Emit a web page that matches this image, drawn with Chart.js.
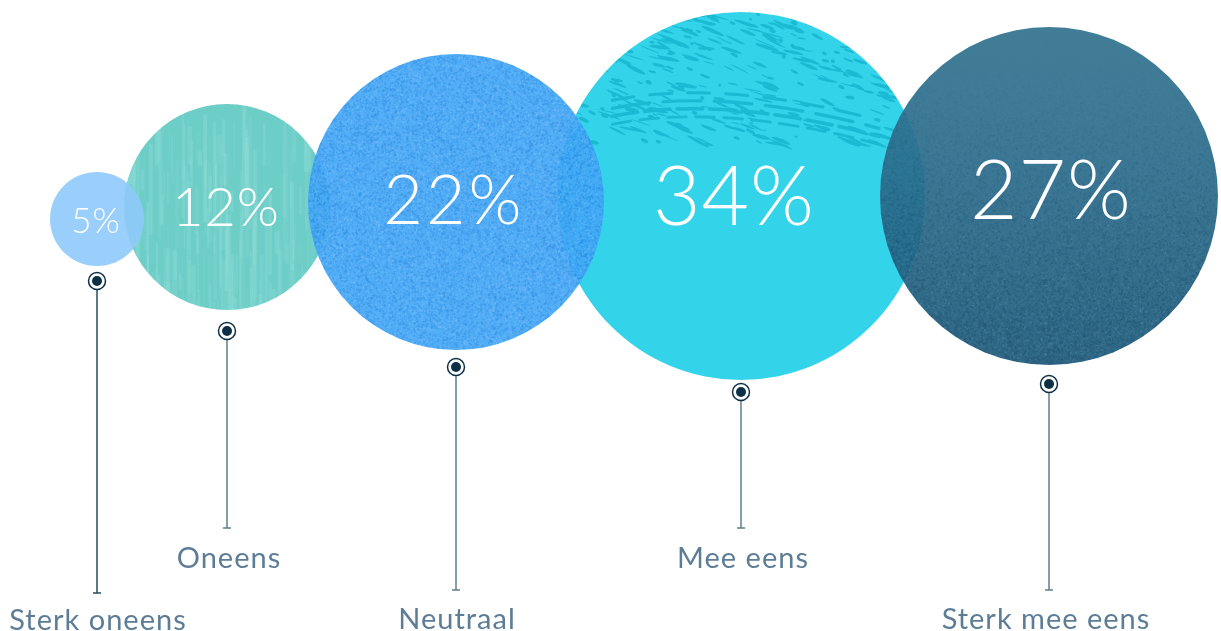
<!DOCTYPE html>
<html lang="nl">
<head>
<meta charset="utf-8">
<title>Stellingen</title>
<script src="https://cdn.jsdelivr.net/npm/chart.js@4.4.1/dist/chart.umd.min.js"></script>
<style>
  html, body { margin: 0; padding: 0; background: #fff; }
  #wrap { width: 1221px; height: 631px; }
</style>
</head>
<body>
<div id="wrap"><canvas id="bubbles" width="1221" height="631"></canvas></div>
<script>
const categories = ['Sterk oneens', 'Oneens', 'Neutraal', 'Mee eens', 'Sterk mee eens'];
const percentages = [5, 12, 22, 34, 27];

// where each bubble sits on the hidden x/y scales, and how big it is
const bubbleX = [97, 227, 456, 741, 1049];
const bubbleY = [219, 207, 202, 196, 196];
const bubbleR = [47, 103, 148, 184, 169];

// pin + stem + caption under each bubble
const pinY = [281, 331, 367, 392, 384];
const stemEnd = [593, 528, 590, 528, 590];
const captionY = [630, 568, 629, 568, 629];
const captionX = [98, 229, 457, 743, 1046];

// percentage text inside the bubbles
const pctSize = [35, 54, 68, 82, 82];
const pctBaseline = [233, 226, 224, 225, 219];
const pctX = [96, 226, 454, 734, 1051];

const W = 1221, H = 631;

function seeded(seed) {
  return function () {
    seed = (seed * 16807) % 2147483647;
    return (seed - 1) / 2147483646;
  };
}

function circleClip(ctx, cx, cy, r) {
  ctx.beginPath();
  ctx.arc(cx, cy, r, 0, Math.PI * 2);
  ctx.clip();
}

// paint one textured disc on its own canvas, return it as a pattern
function makeTexture(ctx, i, cx, cy, r) {
  const tex = document.createElement('canvas');
  tex.width = W; tex.height = H;
  const t = tex.getContext('2d');
  const rnd = seeded(1234 + i * 97);
  t.save();
  circleClip(t, cx, cy, r + 1);

  if (i === 0) {
    t.fillStyle = '#8ecafa';
    t.fillRect(0, 0, W, H);
  } else if (i === 1) {
    t.fillStyle = '#66cbc5';
    t.fillRect(0, 0, W, H);
    for (let k = 0; k < 220; k++) {
      const x = cx + (rnd() * 2 - 1) * r;
      const y = cy - r + rnd() * 2 * r;
      t.fillStyle = 'rgba(150,225,219,' + (0.08 + rnd() * 0.2) + ')';
      t.fillRect(x, y, 1 + rnd() * 4, 15 + rnd() * 110);
    }
  } else if (i === 2) {
    t.fillStyle = '#43a6f6';
    t.fillRect(0, 0, W, H);
    for (let k = 0; k < 26000; k++) {
      const x = cx - r + rnd() * 2 * r;
      const y = cy - r + rnd() * 2 * r;
      t.fillStyle = rnd() < 0.6 ? 'rgba(36,138,226,0.45)' : 'rgba(110,188,252,0.4)';
      t.fillRect(x, y, 1 + Math.floor(rnd() * 2), 1 + Math.floor(rnd() * 2));
    }
  } else if (i === 3) {
    t.fillStyle = '#2dd2ea';
    t.fillRect(0, 0, W, H);
    t.fillStyle = '#14b8d2';
    for (let k = 0; k < 380; k++) {
      const y = cy - r + Math.pow(rnd(), 1.4) * r * 0.72;
      const x = cx + (rnd() * 2 - 1) * r * 0.95;
      const len = 3 + rnd() * 22;
      const th = 1 + rnd() * 3;
      t.save();
      t.translate(x, y);
      t.rotate(0.15 + rnd() * 0.35);
      t.beginPath();
      t.ellipse(0, 0, len / 2, th / 2, 0, 0, Math.PI * 2);
      t.fill();
      t.restore();
    }
    // long sweeping brush strokes
    t.strokeStyle = '#14b8d2';
    t.lineCap = 'round';
    for (let k = 0; k < 4; k++) {
      t.lineWidth = 2 + rnd() * 3;
      t.setLineDash([15 + rnd() * 50, 6 + rnd() * 14]);
      t.beginPath();
      const y0 = cy - r * 0.52 + k * 8;
      t.moveTo(cx - r * 0.7, y0);
      t.quadraticCurveTo(cx - r * 0.1, y0 - 22, cx + r * 0.75, y0 + 20);
      t.stroke();
    }
    t.setLineDash([]);
  } else {
    const g = t.createLinearGradient(0, cy - r, 0, cy + r);
    g.addColorStop(0, '#34748f');
    g.addColorStop(0.4, '#2d6e8d');
    g.addColorStop(1, '#1f5b7c');
    t.fillStyle = g;
    t.fillRect(0, 0, W, H);
    for (let k = 0; k < 30000; k++) {
      const x = cx - r + rnd() * 2 * r;
      const v = rnd();
      const y = cy - r + v * r * 2;
      t.fillStyle = rnd() < 0.7 ? 'rgba(22,78,110,' + (v * v * 0.75) + ')' : 'rgba(72,135,165,' + (v * 0.35) + ')';
      t.fillRect(x, y, 1 + Math.floor(rnd() * 2), 1 + Math.floor(rnd() * 2));
    }
  }
  t.restore();

  // bubbles are a touch see-through where they overlap
  const out = document.createElement('canvas');
  out.width = W; out.height = H;
  const o = out.getContext('2d');
  o.globalAlpha = [0.9, 0.95, 0.92, 0.97, 0.93][i];
  o.drawImage(tex, 0, 0);
  return ctx.createPattern(out, 'no-repeat');
}

const flatColors = ['#8ecafa', '#66cbc5', '#43a6f6', '#2dd2ea', '#2d6f8e'];

const datasets = categories.map((name, i) => ({
  label: name,
  data: [{ x: bubbleX[i], y: bubbleY[i], r: bubbleR[i] }],
  backgroundColor: flatColors[i],
  borderWidth: 0,
  hoverBorderWidth: 0,
  hoverRadius: 0,
  // the smaller outer bubbles sit behind their neighbours
  order: (i === 1 || i === 3) ? 1 : 0,
  clip: false
}));

const annotations = {
  id: 'annotations',
  afterDatasetsDraw(chart) {
    const ctx = chart.ctx;
    const xs = chart.scales.x;
    const ys = chart.scales.y;
    ctx.save();
    categories.forEach((name, i) => {
      const pt = chart.getDatasetMeta(i).data[0];
      const px = pt.x;

      // percentage
      ctx.fillStyle = '#ffffff';
      ctx.textAlign = 'center';
      ctx.textBaseline = 'alphabetic';
      ctx.letterSpacing = (i === 2 ? 3 : 1) + 'px';
      ctx.font = '300 ' + pctSize[i] + 'px Lato, "Open Sans", sans-serif';
      ctx.fillText(percentages[i] + '%', xs.getPixelForValue(pctX[i]), ys.getPixelForValue(pctBaseline[i]));

      // stem
      const top = ys.getPixelForValue(pinY[i]);
      const bottom = ys.getPixelForValue(stemEnd[i]);
      ctx.strokeStyle = i === 0 ? '#244d63' : '#5f7d8f';
      ctx.lineWidth = 1.5;
      ctx.beginPath();
      ctx.moveTo(px, top + 8);
      ctx.lineTo(px, bottom);
      ctx.moveTo(px - 4, bottom);
      ctx.lineTo(px + 4, bottom);
      ctx.stroke();

      // pin
      ctx.fillStyle = '#ffffff';
      ctx.strokeStyle = '#0e3047';
      ctx.lineWidth = 1.5;
      ctx.beginPath();
      ctx.arc(px, top, 8.5, 0, Math.PI * 2);
      ctx.fill();
      ctx.stroke();
      ctx.fillStyle = '#0e3047';
      ctx.beginPath();
      ctx.arc(px, top, 5, 0, Math.PI * 2);
      ctx.fill();

      // caption
      ctx.fillStyle = '#5d7d97';
      ctx.letterSpacing = '1px';
      ctx.font = '400 29px Lato, "Open Sans", sans-serif';
      ctx.fillText(name, xs.getPixelForValue(captionX[i]), ys.getPixelForValue(captionY[i]));
    });
    ctx.restore();
  }
};

const ctx = document.getElementById('bubbles').getContext('2d');

const chart = new Chart(ctx, {
  type: 'bubble',
  data: { datasets: datasets },
  options: {
    responsive: false,
    animation: false,
    events: [],
    layout: { padding: 0, autoPadding: false },
    scales: {
      x: { type: 'linear', min: 0, max: W, display: false },
      y: { type: 'linear', min: 0, max: H, reverse: true, display: false }
    },
    plugins: {
      legend: { display: false },
      tooltip: { enabled: false }
    }
  },
  plugins: [annotations]
});

// swap the flat fills for textured ones once pixel positions are known
chart.data.datasets.forEach((ds, i) => {
  const el = chart.getDatasetMeta(i).data[0];
  ds.backgroundColor = makeTexture(ctx, i, el.x, el.y, bubbleR[i]);
});
chart.update('none');
</script>
</body>
</html>
